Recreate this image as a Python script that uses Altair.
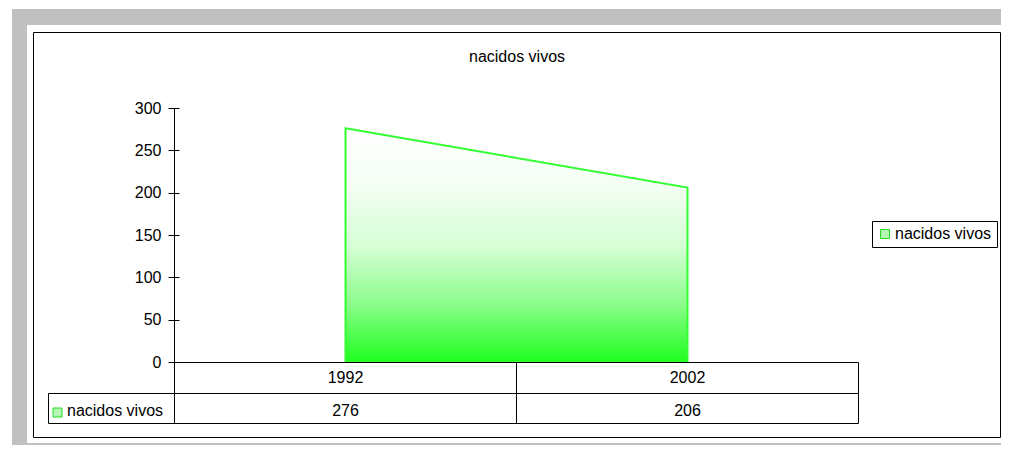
import altair as alt
import pandas as pd

# ---- data ----
years = [1992, 2002]
nacidos = [276, 206]
series_name = "nacidos vivos"
chart_title = "nacidos vivos"
y_ticks = [0, 50, 100, 150, 200, 250, 300]

df = pd.DataFrame({"year": years, "value": nacidos, "serie": [series_name] * len(years)})
series_df = pd.DataFrame({"serie": [series_name]})
title_df = pd.DataFrame({"t": [chart_title]})
one = alt.Data(values=[{"k": 1}])

FONT = "Liberation Sans"

x_scale = alt.Scale(type="band", domain=years, paddingInner=0, paddingOuter=0, range=[0.5, 684.5])
y_scale = alt.Scale(domain=[0, 300], nice=False, zero=True)

# ---- decorative frame ----
bg_gray = alt.Chart(one).mark_rect(fill="#c0c0c0").encode(
    x=alt.value(-162), x2=alt.value(830), y=alt.value(-99), y2=alt.value(340))
bg_white = alt.Chart(one).mark_rect(fill="white").encode(
    x=alt.value(-147), x2=alt.value(830), y=alt.value(-83), y2=alt.value(335))
frame = alt.Chart(one).mark_rect(fill="white", stroke="black", strokeWidth=1).encode(
    x=alt.value(-140.5), x2=alt.value(826.5), y=alt.value(-75.5), y2=alt.value(329.5))

# ---- area ----
grad = alt.Gradient(
    gradient="linear",
    stops=[alt.GradientStop(color="#ffffff", offset=0),
           alt.GradientStop(color="#f4fff4", offset=0.25),
           alt.GradientStop(color="#d6ffd6", offset=0.5),
           alt.GradientStop(color="#8cfc8c", offset=0.75),
           alt.GradientStop(color="#1eff1e", offset=1)],
    x1=0, x2=0, y1=0, y2=1)

area = alt.Chart(df).mark_area(fill=grad, stroke="#33ff33", strokeWidth=2).encode(
    x=alt.X("year:O", scale=x_scale, bandPosition=0.5, axis=None),
    y=alt.Y("value:Q", scale=y_scale,
            axis=alt.Axis(values=y_ticks, title=None, domain=False, grid=False,
                          offset=-5, tickSize=11, tickColor="black", tickWidth=1,
                          labelPadding=7, labelFont=FONT, labelFontSize=16,
                          labelColor="black", zindex=1)))

yrule = alt.Chart(one).mark_rule(color="black", strokeWidth=1).encode(
    x=alt.value(0.5), y=alt.value(0), y2=alt.value(255))

# ---- data table ----
cells1 = alt.Chart(df).mark_rect(fill="white", stroke="black", strokeWidth=1).encode(
    x=alt.X("year:O", scale=x_scale, axis=None), y=alt.value(254.5), y2=alt.value(285.5))
cells2 = alt.Chart(df).mark_rect(fill="white", stroke="black", strokeWidth=1).encode(
    x=alt.X("year:O", scale=x_scale, axis=None), y=alt.value(285.5), y2=alt.value(315.5))
leftcell = alt.Chart(one).mark_rect(fill="white", stroke="black", strokeWidth=1).encode(
    x=alt.value(-125.5), x2=alt.value(0.5), y=alt.value(285.5), y2=alt.value(315.5))

text1 = alt.Chart(df).mark_text(font=FONT, fontSize=16, color="black", baseline="alphabetic").encode(
    x=alt.X("year:O", scale=x_scale, bandPosition=0.5, axis=None), y=alt.value(275), text="year:O")
text2 = alt.Chart(df).mark_text(font=FONT, fontSize=16, color="black", baseline="alphabetic").encode(
    x=alt.X("year:O", scale=x_scale, bandPosition=0.5, axis=None), y=alt.value(307.5), text="value:Q")

key = alt.Chart(series_df).mark_square(size=81, stroke="#22dd22", strokeWidth=1, opacity=1).encode(
    x=alt.value(-116.5), y=alt.value(304.5),
    fill=alt.Fill("serie:N", scale=alt.Scale(domain=[series_name], range=["#b5f5b5"]),
                  legend=alt.Legend(orient="none", legendX=698, legendY=113, title=None,
                                    fillColor="white", strokeColor="black", padding=5,
                                    symbolType="square", symbolSize=81,
                                    symbolStrokeColor="#22dd22", symbolStrokeWidth=1,
                                    labelFont=FONT, labelFontSize=16, labelColor="black",
                                    labelOffset=2, cornerRadius=0, zindex=1)))

leftlabel = alt.Chart(series_df).mark_text(font=FONT, fontSize=16, color="black",
                                           align="left", baseline="alphabetic").encode(
    x=alt.value(-107), y=alt.value(307.5), text="serie:N")

title = alt.Chart(title_df).mark_text(font=FONT, fontSize=16, color="black",
                                      align="center", baseline="alphabetic").encode(
    x=alt.value(343), y=alt.value(-46), text="t:N")

chart = alt.layer(
    bg_gray, bg_white, frame, area, yrule, cells1, cells2, leftcell,
    text1, text2, key, leftlabel, title
).properties(
    width=684, height=254,
    autosize=alt.AutoSizeParams(type="none"),
    padding={"left": 166, "top": 100, "right": 143, "bottom": 83},
    background="white",
).configure_view(stroke=None)

chart.save("out.html", embed_options={"renderer": "svg", "actions": False})
